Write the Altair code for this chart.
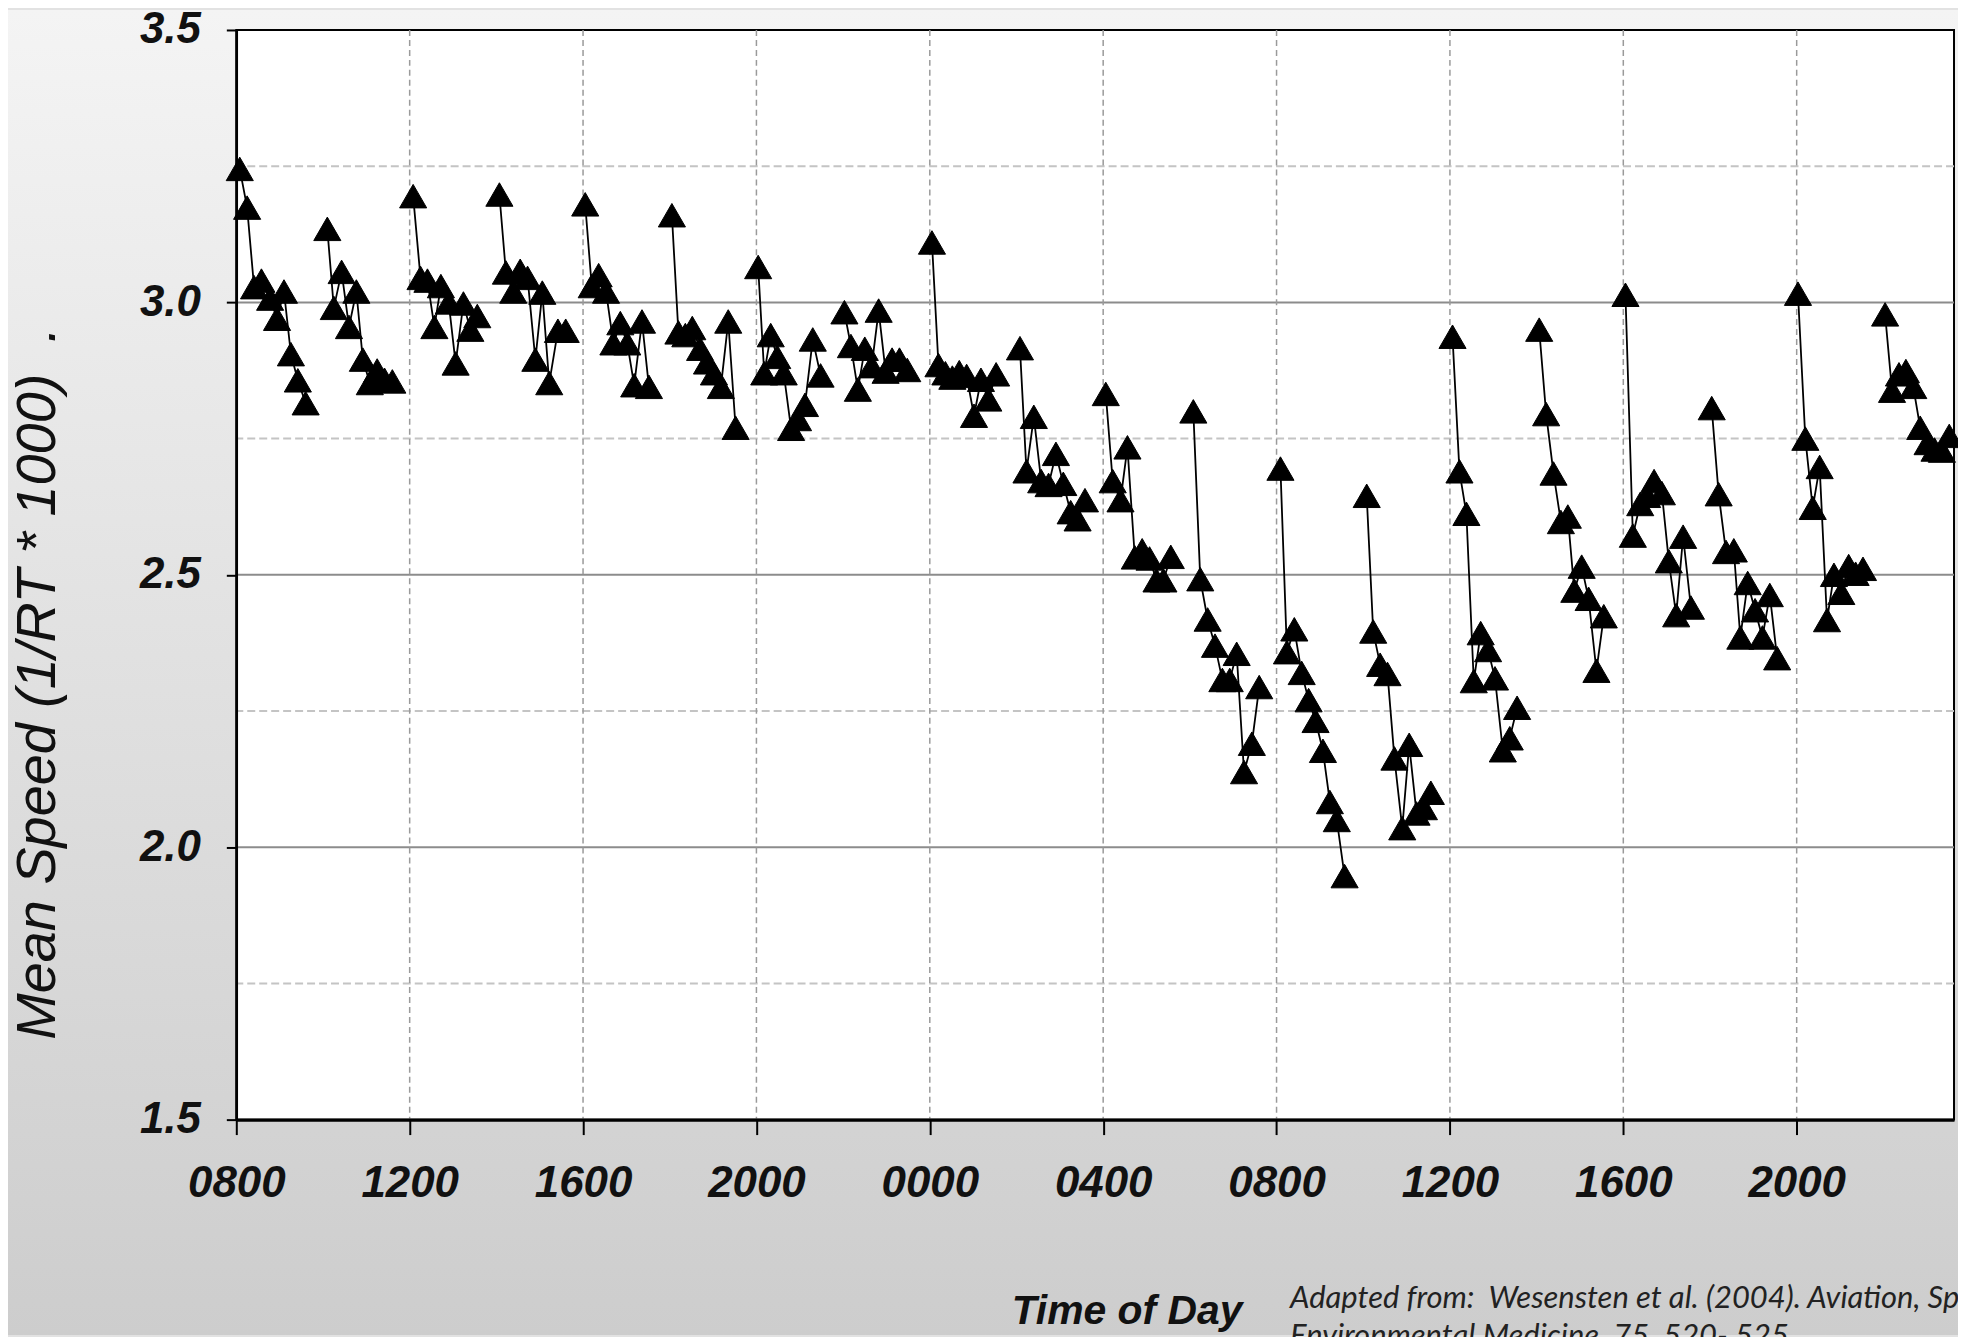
import altair as alt
import pandas as pd

# ---------------- data ----------------
tick_hours = [0, 4, 8, 12, 16, 20, 24, 28, 32, 36]
tick_labels = ["0800", "1200", "1600", "2000", "0000", "0400", "0800", "1200", "1600", "2000"]
y_ticks = [1.5, 2.0, 2.5, 3.0, 3.5]
major_grid = [2.0, 2.5, 3.0]
minor_grid = [1.75, 2.25, 2.75, 3.25]
vgrid_hours = [4, 8, 12, 16, 20, 24, 28, 32, 36]

session_hours = [
    [0.08, 0.25, 0.41, 0.58, 0.78, 0.94, 1.10, 1.26, 1.42, 1.60],
    [2.10, 2.25, 2.43, 2.60, 2.77, 2.92, 3.08, 3.25, 3.42, 3.60],
    [4.08, 4.25, 4.41, 4.57, 4.72, 4.90, 5.06, 5.24, 5.40, 5.56],
    [6.07, 6.22, 6.39, 6.55, 6.72, 6.90, 7.06, 7.22, 7.42, 7.60],
    [8.05, 8.20, 8.36, 8.53, 8.70, 8.86, 9.02, 9.18, 9.36, 9.52],
    [10.05, 10.20, 10.36, 10.52, 10.70, 10.86, 11.02, 11.18, 11.35, 11.52],
    [12.04, 12.18, 12.33, 12.48, 12.63, 12.80, 12.96, 13.12, 13.30, 13.48],
    [14.03, 14.18, 14.34, 14.50, 14.66, 14.82, 14.98, 15.13, 15.30, 15.48],
    [16.05, 16.20, 16.36, 16.52, 16.68, 16.85, 17.02, 17.18, 17.35, 17.53],
    [18.08, 18.23, 18.40, 18.57, 18.74, 18.91, 19.08, 19.25, 19.41, 19.58],
    [20.06, 20.22, 20.40, 20.56, 20.73, 20.90, 21.07, 21.23, 21.39, 21.56],
    [22.08, 22.24, 22.41, 22.58, 22.75, 22.92, 23.08, 23.25, 23.43, 23.60],
    [24.09, 24.24, 24.41, 24.58, 24.74, 24.90, 25.07, 25.23, 25.39, 25.57],
    [26.08, 26.23, 26.39, 26.56, 26.72, 26.90, 27.06, 27.23, 27.40, 27.56],
    [28.06, 28.22, 28.38, 28.55, 28.71, 28.88, 29.04, 29.22, 29.38, 29.55],
    [30.06, 30.22, 30.39, 30.56, 30.72, 30.87, 31.04, 31.20, 31.38, 31.55],
    [32.05, 32.22, 32.39, 32.55, 32.71, 32.89, 33.05, 33.22, 33.38, 33.56],
    [34.04, 34.20, 34.37, 34.55, 34.70, 34.87, 35.04, 35.21, 35.38, 35.55],
    [36.03, 36.20, 36.37, 36.53, 36.70, 36.86, 37.03, 37.20, 37.36, 37.53],
    [38.04, 38.20, 38.36, 38.52, 38.69, 38.85, 39.02, 39.18, 39.35, 39.52],
]
session_speeds = [
    [3.245, 3.174, 3.028, 3.040, 3.007, 2.970, 3.020, 2.905, 2.857, 2.815],
    [3.135, 2.990, 3.056, 2.955, 3.020, 2.895, 2.852, 2.875, 2.858, 2.855],
    [3.195, 3.045, 3.040, 2.955, 3.030, 3.000, 2.888, 2.998, 2.950, 2.975],
    [3.198, 3.055, 3.020, 3.058, 3.045, 2.895, 3.018, 2.852, 2.948, 2.948],
    [3.180, 3.030, 3.050, 3.020, 2.925, 2.962, 2.925, 2.848, 2.965, 2.845],
    [3.160, 2.945, 2.940, 2.953, 2.915, 2.890, 2.870, 2.845, 2.965, 2.770],
    [3.065, 2.870, 2.940, 2.900, 2.870, 2.768, 2.786, 2.812, 2.932, 2.866],
    [2.982, 2.920, 2.840, 2.915, 2.883, 2.985, 2.873, 2.895, 2.895, 2.876],
    [3.110, 2.885, 2.870, 2.862, 2.872, 2.865, 2.792, 2.858, 2.822, 2.868],
    [2.916, 2.690, 2.790, 2.672, 2.665, 2.722, 2.667, 2.615, 2.602, 2.637],
    [2.832, 2.672, 2.637, 2.734, 2.532, 2.545, 2.530, 2.490, 2.490, 2.533],
    [2.800, 2.492, 2.418, 2.370, 2.307, 2.307, 2.355, 2.138, 2.190, 2.294],
    [2.695, 2.358, 2.400, 2.320, 2.270, 2.232, 2.177, 2.083, 2.050, 1.947],
    [2.645, 2.396, 2.335, 2.318, 2.163, 2.035, 2.188, 2.062, 2.072, 2.100],
    [2.937, 2.690, 2.612, 2.305, 2.393, 2.362, 2.310, 2.178, 2.200, 2.256],
    [2.950, 2.795, 2.686, 2.597, 2.607, 2.471, 2.515, 2.456, 2.324, 2.424],
    [3.014, 2.572, 2.630, 2.645, 2.672, 2.650, 2.525, 2.426, 2.570, 2.440],
    [2.806, 2.648, 2.542, 2.545, 2.385, 2.485, 2.435, 2.385, 2.463, 2.347],
    [3.016, 2.750, 2.623, 2.698, 2.417, 2.500, 2.467, 2.516, 2.502, 2.511],
    [2.978, 2.838, 2.868, 2.874, 2.845, 2.770, 2.742, 2.730, 2.728, 2.755],
]

citation = [
    "Adapted from:\u00a0 Wesensten et al. (2004). Aviation, Space, and",
    "Environmental Medicine, 75, 520- 525",
]
y_title = "Mean Speed (1/RT * 1000)\u00a0\u00a0."
x_title = "Time of Day"

# ---------------- build table ----------------
rows = []
for i, (hs, vs) in enumerate(zip(session_hours, session_speeds)):
    for h, v in zip(hs, vs):
        rows.append({"session": i, "hour": h, "speed": v})
df = pd.DataFrame(rows)

W, H = 1723, 1093
PAD = {"left": 229, "top": 20, "right": 4, "bottom": 216}

x_scale = alt.Scale(domain=[0, 39.63], nice=False, zero=False)
y_scale = alt.Scale(domain=[1.5, 3.5], nice=False, zero=False)

label_expr = "[" + ",".join("'%s'" % s for s in tick_labels) + "][round(datum.value/4)]"

LABEL_FONT = "Liberation Sans"

x_axis = alt.Axis(
    values=tick_hours, labelExpr=label_expr, grid=False,
    domainColor="black", domainWidth=3.5, tickColor="black", tickWidth=2, tickSize=15,
    labelPadding=27, labelFont=LABEL_FONT, labelFontSize=44, labelFontWeight="bold",
    labelFontStyle="italic", labelColor="#111111", labelFlush=False, labelOverlap=False,
    title=x_title, titleFont=LABEL_FONT, titleFontSize=41, titleFontWeight="bold",
    titleFontStyle="italic", titleColor="#111111", titleX=893, titleY=205,
    titleAlign="center", titleBaseline="alphabetic", zindex=1,
)
y_axis = alt.Axis(
    values=y_ticks, format=".1f", grid=False,
    domainColor="black", domainWidth=2.5, tickColor="black", tickWidth=2, tickSize=10,
    labelPadding=26, labelFont=LABEL_FONT, labelFontSize=44, labelFontWeight="bold",
    labelFontStyle="italic", labelColor="#111111", labelFlush=False,
    title=y_title, titleFont=LABEL_FONT, titleFontSize=56, titleFontWeight="normal",
    titleFontStyle="italic", titleColor="#111111", titleX=-182, titleY=655,
    titleAngle=270, titleAlign="center", titleBaseline="alphabetic", zindex=1,
)

one = pd.DataFrame({"k": [0]})

background = alt.Chart(one).mark_rect(
    fill=alt.Gradient(
        gradient="linear",
        stops=[alt.GradientStop(offset=0, color="#f4f4f4"),
               alt.GradientStop(offset=1, color="#cdcdcd")],
        x1=0, x2=0, y1=0, y2=1,
    )
).encode(x=alt.value(-PAD["left"]), x2=alt.value(W + PAD["right"]),
         y=alt.value(-PAD["top"]), y2=alt.value(H + PAD["bottom"]))

plot_bg = alt.Chart(one).mark_rect(fill="white", stroke="black", strokeWidth=2).encode(
    x=alt.value(0), x2=alt.value(W), y=alt.value(0), y2=alt.value(H))

minor = alt.Chart(pd.DataFrame({"speed": minor_grid})).mark_rule(
    color="#c4c4c4", strokeWidth=2, strokeDash=[8, 4]
).encode(y=alt.Y("speed:Q", scale=y_scale))

major = alt.Chart(pd.DataFrame({"speed": major_grid})).mark_rule(
    color="#8c8c8c", strokeWidth=2
).encode(y=alt.Y("speed:Q", scale=y_scale))

vgrid = alt.Chart(pd.DataFrame({"hour": vgrid_hours})).mark_rule(
    color="#9a9a9a", strokeWidth=1.5, strokeDash=[6, 4]
).encode(x=alt.X("hour:Q", scale=x_scale))

line = alt.Chart(df).mark_line(color="black", strokeWidth=1.8).encode(
    x=alt.X("hour:Q", scale=x_scale, axis=x_axis),
    y=alt.Y("speed:Q", scale=y_scale, axis=y_axis),
    detail="session:N",
)

points = alt.Chart(df).mark_point(
    shape="triangle-up", filled=True, color="black", size=740, opacity=1,
    stroke="black", strokeWidth=1,
).encode(x=alt.X("hour:Q", scale=x_scale), y=alt.Y("speed:Q", scale=y_scale))

chart = alt.layer(background, plot_bg, minor, major, vgrid, line, points).properties(
    width=W, height=H,
    padding=PAD,
    autosize=alt.AutoSizeParams(type="none"),
    background="#e2e2e2",
    title=alt.TitleParams(
        text=citation, orient="bottom", anchor="start", frame="group",
        dx=1057, dy=-55, font="Lato", fontSize=31, fontStyle="italic",
        fontWeight="normal", color="#222222", lineHeight=38, align="left",
        baseline="top",
    ),
).configure_view(strokeWidth=0)

chart.save("out.html", embed_options={"renderer": "svg", "actions": False})
